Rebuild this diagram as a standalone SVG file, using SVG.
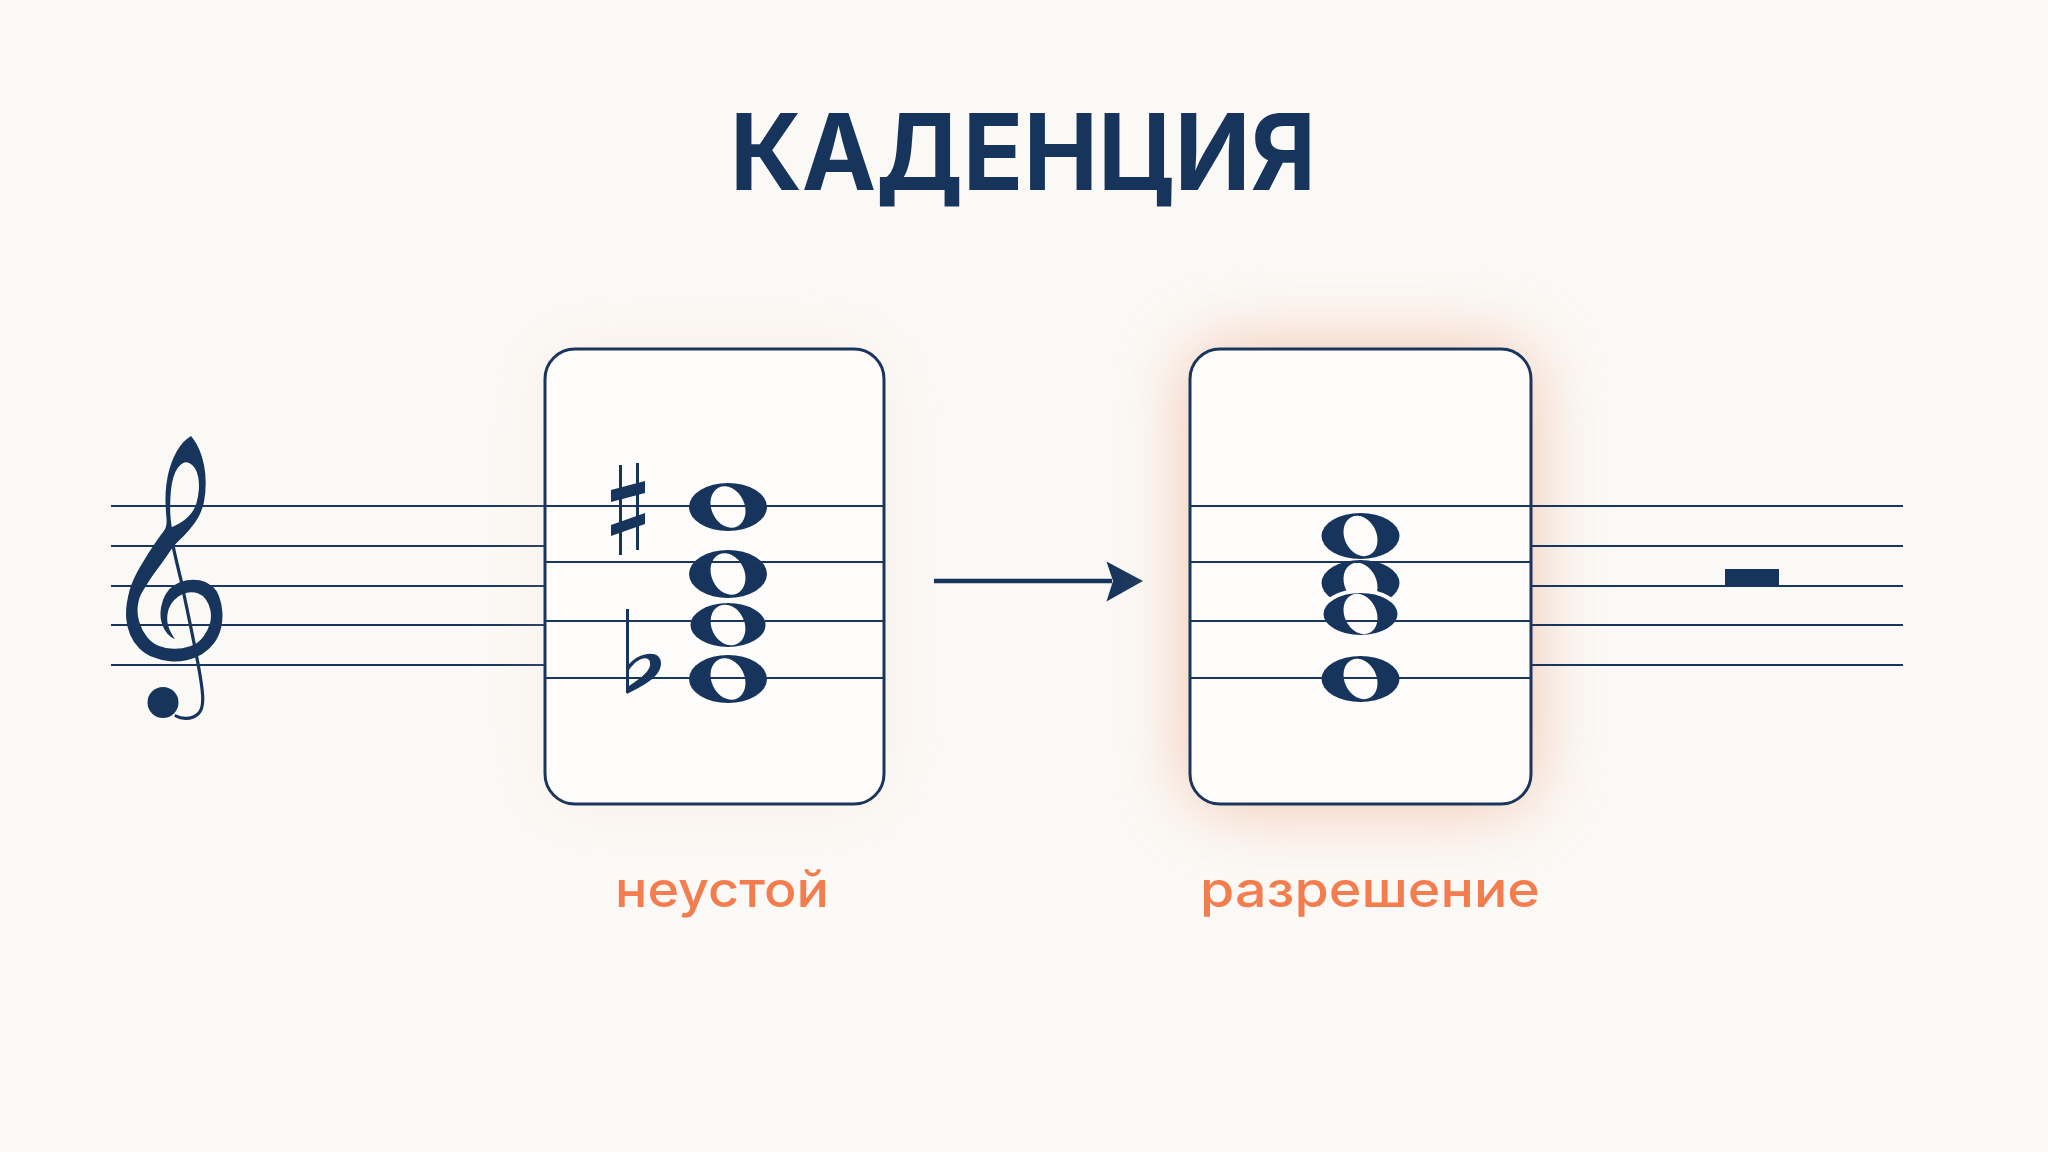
<svg xmlns="http://www.w3.org/2000/svg" width="2048" height="1152" viewBox="0 0 2048 1152">
  <defs>
    <style>
      .bg { fill: #fbf9f6; }
      .staff { stroke: #1b365d; stroke-width: 2.2; fill: none; }
      .box { fill: #fdfcfb; stroke: #1b365d; stroke-width: 3; }
      .nh { fill: #17355c; }
      .hole { fill: #fdfcfb; }
      .ink { fill: #17355c; }
      .title { font-family: Inter, "Noto Sans", "Liberation Sans", sans-serif; font-weight: 700; font-size: 106px; fill: #17355c; }
      .label { font-family: Inter, "Noto Sans", "Liberation Sans", sans-serif; font-weight: 500; font-size: 50px; fill: #f47d50; }
    </style>
    <filter id="glow" x="-50%" y="-50%" width="200%" height="200%">
      <feGaussianBlur stdDeviation="36"/>
    </filter>
  </defs>

  <rect class="bg" x="0" y="0" width="2048" height="1152"/>

  <g id="title">
    <text class="title" x="1023" y="190" text-anchor="middle" textLength="586" lengthAdjust="spacingAndGlyphs">КАДЕНЦИЯ</text>
  </g>

  <!-- left staff with treble clef -->
  <g id="staff-left">
    <g id="clef">
      <path class="ink" fill-rule="evenodd" d="M191,436 L193.85,439.65 Q196.7,443.3 199.5,450 Q202.3,456.7 204,465 Q205.7,473.3 205.7,483.3 Q205.7,493.3 204,501.65 Q202.3,510 198.65,516.65 Q195,523.3 189.15,530 Q183.3,536.7 178.8,540.85 Q174.3,545 168,554.15 Q161.7,563.3 156.7,570 Q151.7,576.7 149.2,580.85 Q146.7,585 142.85,591 Q139,597 137.85,605.15 Q136.7,613.3 139.2,621.65 Q141.7,630 146.7,636.5 Q151.7,643 158.35,645.75 Q165,648.5 173.35,648.75 Q181.7,649 190,646.25 Q198.3,643.5 203.3,636.75 Q208.3,630 210,623.35 Q211.7,616.7 210.35,610 Q209,603.3 205.65,599.15 Q202.3,595 197.8,593.35 Q193.3,591.7 188.3,592.5 Q183.3,593.3 178.8,596.3 Q174.3,599.3 171.3,603.8 Q168.3,608.3 167.5,614.15 Q166.7,620 168,625 Q169.3,630 172.15,634.65 L175,639.3 L171.35,637.15 Q167.7,635 164.7,630 Q161.7,625 160.85,619.15 Q160,613.3 161.15,606.65 Q162.3,600 165.65,594.15 Q169,588.3 174.5,585 Q180,581.7 186.65,580.35 Q193.3,579 200,580.35 Q206.7,581.7 211.7,585.85 Q216.7,590 219.2,596.65 Q221.7,603.3 222.35,611.65 Q223,620 221,628.35 Q219,636.7 214,643.35 Q209,650 202,654.15 Q195,658.3 186.65,660.15 Q178.3,662 170,661.35 Q161.7,660.7 153.35,657.35 Q145,654 139.15,648.15 Q133.3,642.3 130,634.5 Q126.7,626.7 126.2,618.35 Q125.7,610 126.85,603 Q128,596 129.5,590.5 Q131,585 134,578.5 Q137,572 140,567 Q143,562 147,555.5 Q151,549 155.5,542.5 Q160,536 163.65,531.35 Q167.3,526.7 166.5,518.35 Q165.7,510 165.5,501.65 Q165.3,493.3 166.3,485 Q167.3,476.7 169.15,470 Q171,463.3 173.85,457 Q176.7,450.7 180,446.2 Q183.3,441.7 187.15,438.85 L191,436 Z M189.15,463 Q192.3,464.3 194.8,468 Q197.3,471.7 198.3,477.5 Q199.3,483.3 198.8,490 Q198.3,496.7 196.65,502.5 Q195,508.3 191.65,512.8 Q188.3,517.3 184.15,520.3 Q180,523.3 175.85,525.3 L171.7,527.3 L170.85,520.3 Q170,513.3 170.15,505 Q170.3,496.7 171,490 Q171.7,483.3 173.35,477.5 Q175,471.7 177.65,468 Q180.3,464.3 183.15,463 Q186,461.7 189.15,463 Z"/>
      <path fill="none" stroke="#17355c" stroke-width="3.2" stroke-linecap="round" d="M169,522 C171,540 176,560 181,580 C186,605 195,645 200,675 C203,693 205,708 198,714 C191,720 181,719 176,716"/>
      <circle class="ink" cx="163" cy="702.5" r="15.5"/>
    </g>
    <path class="staff" d="M111,506H545M111,546H545M111,586H545M111,625H545M111,665H545"/>
  </g>

  <!-- box 1: unstable chord -->
  <g id="box-unstable">
    <rect x="545" y="349" width="339" height="455" rx="30" fill="#f2c2aa" opacity="0.2" filter="url(#glow)"/>
    <rect class="box" x="545" y="349" width="339" height="455" rx="30"/>
    <g id="chord1">
      <ellipse class="nh" cx="728" cy="507" rx="39" ry="24"/>
      <ellipse class="hole" cx="728" cy="507" rx="16.5" ry="21.5" transform="rotate(-25 728 507)"/>
      <ellipse class="nh" cx="728" cy="574" rx="39" ry="24"/>
      <ellipse class="hole" cx="728" cy="574" rx="16.5" ry="21.5" transform="rotate(-25 728 574)"/>
      <ellipse class="nh" cx="728" cy="625" rx="39" ry="23.5" stroke="#fdfcfb" stroke-width="3"/>
      <ellipse class="hole" cx="728" cy="625" rx="16.5" ry="21" transform="rotate(-25 728 625)"/>
      <ellipse class="nh" cx="728" cy="679" rx="39" ry="24"/>
      <ellipse class="hole" cx="728" cy="679" rx="16.5" ry="21.5" transform="rotate(-25 728 679)"/>
    </g>
    <path class="staff" d="M545,506H884M545,562H884M545,621H884M545,678H884"/>
    <g id="sharp">
      <rect class="ink" x="619" y="465" width="3" height="90"/>
      <rect class="ink" x="636" y="463" width="3" height="87"/>
      <polygon class="ink" points="611,490 645,481 645,493 611,502"/>
      <polygon class="ink" points="611,525 645,513 645,524 611,536"/>
    </g>
    <g id="flat">
      <rect class="ink" x="626" y="609" width="3" height="84"/>
      <path class="ink" fill-rule="evenodd" d="M627,667 C636,652 662,648 661,664 C660,678 642,686 627,694 Z M629,686 C641,678 652,670 650,662 C648,655 637,658 629,670 Z"/>
    </g>
  </g>

  <!-- connector -->
  <g id="connectors">
    <line x1="934" y1="581" x2="1112" y2="581" stroke="#17355c" stroke-width="4.5"/>
    <polygon class="ink" points="1106.5,561.5 1143,581 1106.5,601.5 1113,581"/>
  </g>

  <!-- box 2: resolution chord -->
  <g id="box-resolution">
    <rect x="1190" y="349" width="341" height="455" rx="30" fill="#f0b496" opacity="0.8" filter="url(#glow)"/>
    <rect class="box" x="1190" y="349" width="341" height="455" rx="30"/>
    <g id="chord2">
      <ellipse class="nh" cx="1360.5" cy="536" rx="39" ry="23"/>
      <ellipse class="hole" cx="1360.5" cy="536" rx="16" ry="21" transform="rotate(-25 1360.5 536)"/>
      <ellipse class="nh" cx="1360.5" cy="583" rx="39" ry="23"/>
      <ellipse class="hole" cx="1360.5" cy="583" rx="16" ry="21" transform="rotate(-25 1360.5 583)"/>
      <ellipse class="nh" cx="1360.5" cy="614" rx="39" ry="23" stroke="#fdfcfb" stroke-width="4"/>
      <ellipse class="hole" cx="1360.5" cy="614" rx="16" ry="21" transform="rotate(-25 1360.5 614)"/>
      <ellipse class="nh" cx="1360.5" cy="679" rx="39" ry="23"/>
      <ellipse class="hole" cx="1360.5" cy="679" rx="16" ry="21" transform="rotate(-25 1360.5 679)"/>
    </g>
    <path class="staff" d="M1190,506H1531M1190,562H1531M1190,621H1531M1190,678H1531"/>
  </g>

  <!-- right staff with rest -->
  <g id="staff-right">
    <path class="staff" d="M1531,506H1903M1531,546H1903M1531,586H1903M1531,625H1903M1531,665H1903"/>
    <rect class="ink" x="1725" y="569" width="54" height="17"/>
  </g>

  <g id="labels">
    <text class="label" x="722" y="907" text-anchor="middle" textLength="214" lengthAdjust="spacingAndGlyphs">неустой</text>
    <text class="label" x="1370" y="907" text-anchor="middle" textLength="340" lengthAdjust="spacingAndGlyphs">разрешение</text>
  </g>
</svg>
